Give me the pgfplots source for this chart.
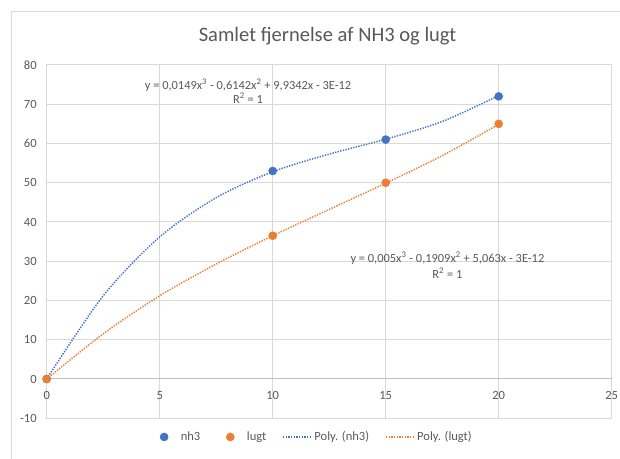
\documentclass[border=0pt]{standalone}
\usepackage{fontspec}
\setmainfont{Carlito}
\usepackage{pgfplots}
\pgfplotsset{compat=1.18}
\definecolor{txt}{HTML}{595959}
\definecolor{gridc}{HTML}{D9D9D9}
\definecolor{axc}{HTML}{BFBFBF}
\definecolor{nhblue}{HTML}{4472C4}
\definecolor{lorange}{HTML}{ED7D31}
\pgfplotsset{
  markleg/.style={legend image code/.code={\path[draw=none,fill=none] (0pt,-1pt) rectangle (21pt,1pt);\draw[mark repeat=2,mark phase=2,##1] plot coordinates {(0pt,0pt)(10.5pt,0pt)(21pt,0pt)};}},
  lineleg/.style={legend image code/.code={\draw[##1] (0pt,0pt) -- (21pt,0pt);}},
}
\begin{document}
\begin{tikzpicture}
\useasboundingbox (-35.03pt,-30.56pt) rectangle (429.98pt,313.69pt);
\fill[white] (-35.03pt,-30.56pt) rectangle (429.98pt,313.69pt);
\begin{scope}
\clip (-35.03pt,-30.56pt) rectangle (429.98pt,313.69pt);
\draw[gridc, line width=0.75pt] (-26.03pt,-45pt) rectangle (445pt,304.69pt);
\end{scope}
\node[text=txt, font=\fontsize{15.4}{18}\selectfont] at (210.6pt,286.5pt) {Samlet fjernelse af NH3 og lugt};
\begin{axis}[
 scale only axis, width=423.75pt, height=264.94pt,
 xmin=0, xmax=25, ymin=-10, ymax=80,
 xtick={0,5,...,25}, ytick={-10,0,...,80},
 grid=major, grid style={gridc, line width=0.75pt},
 axis line style={gridc, line width=0.75pt},
 major tick length=0pt,
 tick label style={font=\fontsize{9.4}{11}\selectfont, text=txt},
 /pgf/number format/assume math mode=true,
 xticklabel style={yshift=23.5pt},
 yticklabel style={xshift=-4pt},
 clip=false,
 legend columns=4,
 legend style={draw=none, fill=none, at={(0.47,-0.053)}, anchor=center,
   font=\fontsize{9.4}{11}\selectfont, text=txt,
   /tikz/every even column/.append style={column sep=10pt}},
 legend cell align=left,
]
\draw[axc, line width=0.75pt] (axis cs:0,0) -- (axis cs:25,0);
\addplot[only marks, mark=*, mark size=3pt, nhblue, markleg]
  coordinates {(0,0) (10,53) (15,61) (20,72)};
\addlegendentry{nh3}
\addplot[only marks, mark=*, mark size=3pt, lorange, markleg]
  coordinates {(0,0) (10,36.5) (15,50) (20,65)};
\addlegendentry{lugt}
\addplot[smooth, no marks, nhblue, line width=1.1pt, dash pattern=on 1pt off 1pt, lineleg]
  coordinates {(0,0) (2.5,21.2) (5,36.2) (7.5,46.2) (10,52.8) (12.5,57.3) (15,61.1) (17.5,65.6) (20,72.2)};
\addlegendentry{Poly. (nh3)}
\addplot[smooth, no marks, lorange, line width=1.1pt, dash pattern=on 1pt off 1pt, lineleg]
  coordinates {(0,0) (2.5,11.5) (5,21.2) (7.5,29.3) (10,36.5) (12.5,43.2) (15,49.9) (17.5,56.9) (20,64.9)};
\addlegendentry{Poly. (lugt)}
\node[text=txt, font=\fontsize{9.3}{10.5}\selectfont, align=center] at (axis cs:8.91,73.4)
  {y = 0,0149x\textsuperscript{3} - 0,6142x\textsuperscript{2} + 9,9342x - 3E-12\\R\textsuperscript{2} = 1};
\node[text=txt, font=\fontsize{9.3}{12}\selectfont, align=center] at (axis cs:17.73,29.0)
  {y = 0,005x\textsuperscript{3} - 0,1909x\textsuperscript{2} + 5,063x - 3E-12\\R\textsuperscript{2} = 1};
\end{axis}
\end{tikzpicture}
\end{document}
